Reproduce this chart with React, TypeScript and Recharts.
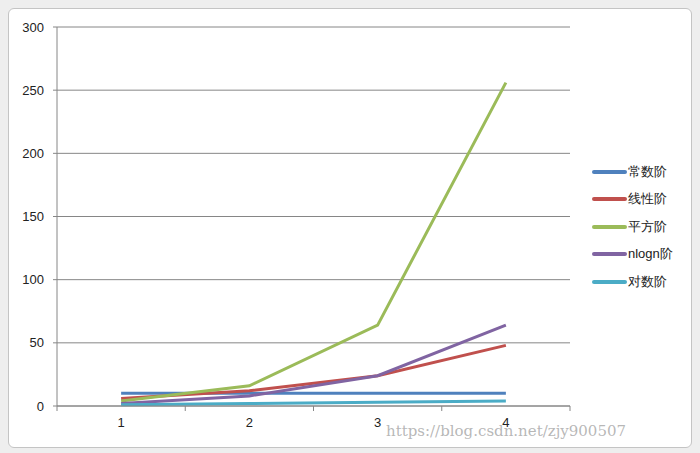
import { LineChart, Line, XAxis, YAxis, CartesianGrid } from 'recharts'

const categories = ['1', '2', '3', '4']
const constantOrder = [10, 10, 10, 10]
const linearOrder = [6, 12, 24, 48]
const squareOrder = [4, 16, 64, 256]
const nlognOrder = [2, 8, 24, 64]
const logOrder = [1, 2, 3, 4]
const yTicks = [0, 50, 100, 150, 200, 250, 300]

const SERIES = [
  { key: '常数阶', values: constantOrder, color: '#4F81BD' },
  { key: '线性阶', values: linearOrder, color: '#C0504D' },
  { key: '平方阶', values: squareOrder, color: '#9BBB59' },
  { key: 'nlogn阶', values: nlognOrder, color: '#8064A2' },
  { key: '对数阶', values: logOrder, color: '#4BACC6' },
]

const data = categories.map((c, i) => {
  const row: Record<string, string | number> = { label: c }
  SERIES.forEach((s) => {
    row[s.key] = s.values[i]
  })
  return row
})

const FONT = '"Liberation Sans", Arial, sans-serif'
const AXIS = '#868686'
const PLOT_LEFT = 57
const PLOT_RIGHT = 570
const BAND = (PLOT_RIGHT - PLOT_LEFT) / categories.length

// label at band centre, tick marks on the band edges like Excel does
function XTick({ x, y, payload, index }: any) {
  const left = x - BAND / 2
  return (
    <g>
      <line x1={left} y1={y - 8} x2={left} y2={y - 3} stroke={AXIS} />
      {index === categories.length - 1 && (
        <line x1={left + BAND} y1={y - 8} x2={left + BAND} y2={y - 3} stroke={AXIS} />
      )}
      <text x={x} y={y + 13} textAnchor="middle" fontSize={13} fill="#222" fontFamily={FONT}>
        {payload.value}
      </text>
    </g>
  )
}

export default function App() {
  return (
    <div
      style={{
        position: 'absolute',
        left: 0,
        top: 0,
        width: 700,
        height: 453,
        background: '#eeeeee',
        overflow: 'hidden',
      }}
    >
      <div
        style={{
          position: 'absolute',
          left: 8,
          top: 8,
          width: 682,
          height: 438,
          background: '#fff',
          border: '1px solid #c4c4c4',
          borderRadius: 6,
        }}
      />
      <div style={{ position: 'absolute', left: 0, top: 0 }}>
        <LineChart
          width={700}
          height={453}
          data={data}
          margin={{ top: 27, right: 700 - PLOT_RIGHT, left: 0, bottom: 17 }}
        >
          <CartesianGrid vertical={false} stroke={AXIS} strokeWidth={1} />
          <XAxis
            dataKey="label"
            height={30}
            stroke={AXIS}
            tickLine={false}
            tick={<XTick />}
            interval={0}
            padding={{ left: BAND / 2, right: BAND / 2 }}
          />
          <YAxis
            width={PLOT_LEFT}
            domain={[0, 300]}
            ticks={yTicks}
            stroke={AXIS}
            tickSize={4}
            tickMargin={9}
            tick={{ fontSize: 13, fill: '#222', fontFamily: FONT }}
          />
          {SERIES.map((s) => (
            <Line
              key={s.key}
              dataKey={s.key}
              type="linear"
              stroke={s.color}
              strokeWidth={3}
              dot={false}
              activeDot={false}
              isAnimationActive={false}
            />
          ))}
        </LineChart>
      </div>
      <div
        style={{
          position: 'absolute',
          left: 592,
          top: 158,
          fontFamily: FONT,
          fontSize: 13,
          color: '#222',
        }}
      >
        {SERIES.map((s) => (
          <div key={s.key} style={{ display: 'flex', alignItems: 'center', height: 27.5 }}>
            <div style={{ width: 35, height: 4, background: s.color, borderRadius: 2 }} />
            <span style={{ marginLeft: 1 }}>{s.key}</span>
          </div>
        ))}
      </div>
      <div
        style={{
          position: 'absolute',
          left: 386,
          top: 422,
          fontFamily: '"DejaVu Serif", "Liberation Serif", serif',
          fontSize: 15,
          color: 'rgba(160,160,160,0.75)',
          whiteSpace: 'nowrap',
        }}
      >
        https://blog.csdn.net/zjy900507
      </div>
    </div>
  )
}
